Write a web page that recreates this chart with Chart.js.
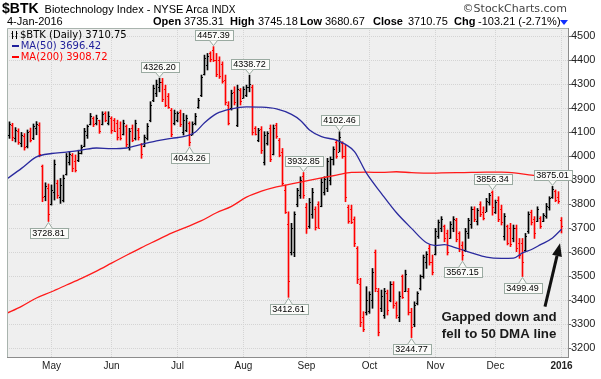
<!DOCTYPE html>
<html>
<head>
<meta charset="utf-8">
<script src="https://cdn.jsdelivr.net/npm/chart.js@4.4.1/dist/chart.umd.min.js"></script>
<style>
body{margin:0;background:#fff;}
#wrap{position:relative;width:601px;height:379px;overflow:hidden;font-family:"Liberation Sans",Arial,sans-serif;color:#000;}
#wrap canvas{position:absolute;left:0;top:0;}
.t{position:absolute;white-space:nowrap;}
.lg{position:absolute;white-space:nowrap;font-family:"DejaVu Sans",Verdana,sans-serif;font-size:10px;line-height:11px;}
</style>
</head>
<body>
<div id="wrap">
<canvas id="chart" width="601" height="379"></canvas>

<div class="t" style="left:2px;top:1px;font-size:14px;line-height:14px;"><b>$BTK</b><span style="font-size:11px;margin-left:6px;">Biotechnology Index - NYSE Arca</span><span style="font-size:10px;margin-left:3px;">INDX</span></div>
<div class="t" style="right:34px;top:3px;font-family:'DejaVu Sans',sans-serif;font-size:11px;line-height:11px;color:#444;">©StockCharts.com</div>

<div class="t" style="left:7px;top:16px;font-size:11px;line-height:11px;">4-Jan-2016</div>
<div class="t" style="left:153px;top:16px;font-size:11px;line-height:11px;"><b>Open</b></div>
<div class="t" style="left:184px;top:16px;font-size:11px;line-height:11px;">3735.31</div>
<div class="t" style="left:230px;top:16px;font-size:11px;line-height:11px;"><b>High</b></div>
<div class="t" style="left:258px;top:16px;font-size:11px;line-height:11px;">3745.18</div>
<div class="t" style="left:300px;top:16px;font-size:11px;line-height:11px;"><b>Low</b></div>
<div class="t" style="left:325px;top:16px;font-size:11px;line-height:11px;">3680.67</div>
<div class="t" style="left:373px;top:16px;font-size:11px;line-height:11px;"><b>Close</b></div>
<div class="t" style="left:408px;top:16px;font-size:11px;line-height:11px;">3710.75</div>
<div class="t" style="left:454px;top:16px;font-size:11px;line-height:11px;"><b>Chg</b></div>
<div class="t" style="left:478px;top:16px;font-size:11px;line-height:11px;">-103.21 (-2.71%)</div>
<div style="position:absolute;left:560px;top:20px;width:0;height:0;border-left:4px solid transparent;border-right:4px solid transparent;border-top:5px solid #1030ff;"></div>

<svg style="position:absolute;left:11px;top:31px;" width="8" height="8">
  <path d="M1.5 0V8 M0.5 2.5H1.5 M1.5 5.5H2.5 M5.5 0V8 M4.5 5.5H5.5 M5.5 2.5H6.5" stroke="#000" stroke-width="1" fill="none"/>
</svg>
<div class="lg" style="left:20px;top:29px;">$BTK (Daily) 3710.75</div>
<div style="position:absolute;left:12px;top:44.5px;width:7px;height:2px;background:#1f1f9a;"></div>
<div class="lg" style="left:20.7px;top:40px;color:#1f1f9a;">MA(50) 3696.42</div>
<div style="position:absolute;left:12px;top:55.5px;width:7px;height:2px;background:#ff0000;"></div>
<div class="lg" style="left:20.7px;top:51px;color:#ff0000;">MA(200) 3908.72</div>
</div>

<script>
// trading-day index 0 = 1 May 2015; bars run from index -14 (13 Apr 2015) to 170 (4 Jan 2016)
const firstIdx=-14;

const opens=[
4090,4130,4075,4105,4055,4085,4045,4105,4075,4120,
4130,3960,3835,3870,3800,3850,3890,3830,3820,3925,
3975,4005,3980,3985,4015,4045,4090,4135,4160,4140,
4150,4135,4180,4140,4160,4150,4140,4120,4095,4125,
4040,4120,4075,4110,4050,4045,4075,4150,4235,4265,
4290,4310,4280,4250,4195,4140,4150,4185,4100,4110,
4140,4090,4140,4205,4255,4345,4380,4430,4445,4400,
4400,4385,4320,4215,4200,4270,4130,4275,4245,4255,
4290,4290,4120,4070,4115,3975,4055,4120,4010,4130,
4070,4020,3860,3720,3600,3600,3800,3840,3920,3790,
3710,3760,3780,3800,3795,3850,3870,3900,3990,4060,
4020,4055,4000,3790,3780,3740,3620,3470,3330,3350,
3355,3400,3600,3440,3370,3340,3430,3400,3470,3390,
3330,3500,3440,3440,3350,3300,3390,3450,3500,3560,
3620,3560,3595,3670,3700,3710,3680,3660,3700,3735,
3680,3630,3610,3680,3720,3780,3730,3800,3770,3770,
3810,3850,3770,3820,3780,3670,3710,3700,3660,3700,
3640,3640,3610,3690,3770,3740,3730,3745,3730,3750,
3790,3830,3855,3830,3735.31];

const highs=[
4144,4138,4120,4115,4100,4095,4110,4118,4135,4145,
4140,3964,3890,3885,3881,3985,3901,3908,3922,4012,
4019,4012,4006,4026,4047,4117,4131,4179,4165,4172,
4151,4186,4186,4186,4165,4158,4151,4144,4151,4131,
4117,4131,4151,4117,4054,4089,4137,4228,4297,4318,
4326.20,4325,4297,4262,4200,4193,4186,4193,4179,4172,
4144,4144,4179,4242,4339,4422,4429,4436,4457.39,4429,
4415,4394,4339,4228,4276,4290,4297,4283,4290,4297,
4338.72,4297,4124,4117,4124,4103,4103,4131,4131,4138,
4075,4033,3881,3769,3721,3769,3867,3915,3932.85,3804,
3825,3867,3790,3811,3908,3915,3992,3998,4040,4068,
4102.46,4061,4047,3797,3797,3748,3624,3492,3353,3457,
3436,3533,3610,3450,3443,3450,3443,3478,3478,3394,
3436,3506,3526,3450,3367,3394,3436,3506,3589,3603,
3631,3589,3700,3735,3749,3714,3693,3728,3749,3742,
3686,3644,3700,3742,3790,3790,3783,3811,3790,3825,
3846,3856.34,3818,3832,3797,3762,3714,3721,3714,3714,
3658,3658,3679,3769,3776,3749,3790,3749,3762,3804,
3832,3875.01,3860,3853,3745.18];

const lows=[
4075,4065,4060,4050,4040,4026,4035,4060,4070,4090,
3998,3811,3815,3728.81,3797,3818,3825,3804,3810,3922,
3964,3936,3935,3978,4010,4040,4075,4131,4124,4131,
4096,4131,4144,4131,4096,4103,4068,4068,4089,4040,
4026,4061,4068,4068,3992,4040,4068,4144,4228,4249,
4269,4228,4207,4200,4082,4131,4144,4124,4089,4103,
4043.26,4089,4131,4200,4249,4339,4360,4394,4395,4332,
4325,4305,4214,4131,4193,4214,4124,4214,4242,4249,
4269,4089,4089,4061,4012,3964,4047,3978,4006,4075,
3998,3881,3762,3412.61,3589,3582,3790,3825,3825,3679,
3700,3742,3693,3700,3790,3839,3853,3881,3964,3992,
4019,3992,3811,3721,3720,3624,3470,3290,3270,3339,
3346,3367,3436,3252,3353,3325,3339,3394,3367,3325,
3311,3408,3436,3339,3244.77,3290,3381,3443,3492,3533,
3547,3506,3589,3658,3686,3644,3589,3658,3686,3644,
3603,3567.15,3603,3658,3700,3728,3714,3749,3735,3769,
3797,3755,3762,3728,3714,3651,3631,3624,3644,3603,
3575,3499.49,3603,3679,3714,3658,3728,3700,3728,3742,
3776,3825,3811,3804,3680.67];

const closes=[
4135,4080,4110,4060,4090,4040,4100,4070,4125,4135,
4010,3830,3875,3760,3860,3970,3840,3880,3910,4000,
4010,3950,3945,4015,4040,4105,4125,4170,4135,4160,
4105,4175,4150,4170,4110,4105,4080,4075,4140,4050,
4105,4070,4140,4080,4010,4080,4125,4215,4285,4300,
4310,4240,4215,4205,4095,4180,4182,4135,4150,4160,
4060,4135,4170,4235,4330,4410,4420,4405,4400,4345,
4335,4315,4225,4140,4265,4225,4280,4230,4280,4290,
4300,4100,4095,4110,4025,4090,4098,3990,4120,4085,
4005,3890,3770,3480,3700,3760,3860,3900,3840,3700,
3810,3850,3705,3702,3895,3905,3980,3990,4030,4000,
4080,4000,3830,3730,3725,3640,3490,3310,3280,3400,
3425,3520,3450,3270,3420,3440,3360,3470,3380,3340,
3420,3415,3510,3350,3290,3380,3430,3500,3580,3595,
3560,3520,3690,3725,3740,3660,3600,3720,3740,3655,
3615,3590,3690,3735,3780,3740,3775,3760,3745,3815,
3840,3790,3810,3740,3725,3750,3640,3635,3700,3620,
3590,3560,3670,3760,3725,3680,3780,3710,3755,3795,
3825,3865,3820,3813.96,3710.75];

// moving averages at sample days
const ma50Idx=[-15,-10,-5,0,5,10,15,20,25,30,35,40,45,48,51,55,60,65,70,75,80,83,86,90,95,98,101,105,110,115,120,125,128,131,134,137,140,145,150,154,157,160,163,167,170];
const ma50Vals=[3905,3950,3998,4012,4018,4026,4035,4032,4035,4050,4065,4075,4085,4102,4140,4178,4198,4206,4205,4198,4175,4150,4110,4082,4068,4050,4020,3930,3845,3765,3700,3640,3628,3632,3622,3610,3598,3580,3575,3576,3598,3612,3632,3660,3696.42];
const ma200Idx=[-15,-10,-5,0,5,10,15,20,25,30,35,40,45,50,55,60,65,70,75,80,85,90,95,100,105,110,115,120,125,130,135,140,145,150,155,160,165,170];
const ma200Vals=[3345,3375,3410,3436,3464,3492,3522,3555,3588,3620,3650,3680,3705,3732,3765,3792,3830,3855,3873,3885,3898,3910,3922,3933,3934,3933,3936,3932,3930,3931,3932,3933,3934,3934,3930,3922,3915,3908.72];

// x axis: first trading day of each month
const monthStarts=[0,20,42,64,85,106,128,148,170];
const monthLabels=['May','Jun','Jul','Aug','Sep','Oct','Nov','Dec','2016'];
const yTicks=[3200,3300,3400,3500,3600,3700,3800,3900,4000,4100,4200,4300,4400,4500];

// price callouts
const calloutIdx=[-1,36,46,54,66,79,84,96,120,137,147,157,167];
const calloutVals=[3728.81,4326.20,4043.26,4457.39,4338.72,3412.61,3932.85,4102.46,3244.77,3567.15,3856.34,3499.49,3875.01];
const calloutSide=['below','above','below','above','above','below','above','above','below','below','above','below','above'];

const noteLines=['Gapped down and','fell to 50 DMA line'];

const barColors=closes.map((c,i)=>{
    const prev=i==0 ? opens[0] : closes[i-1];
    return c>=prev ? '#000000' : '#ff0000';
});

const rangeData=highs.map((h,i)=>({x:firstIdx+i,y:[lows[i],h]}));
const ma50Data=ma50Idx.map((k,i)=>({x:k,y:ma50Vals[i]}));
const ma200Data=ma200Idx.map((k,i)=>({x:k,y:ma200Vals[i]}));

const plotBg={
    id:'plotBg',
    beforeDraw(chart){
        const {ctx,chartArea:a}=chart;
        ctx.save();
        ctx.fillStyle='#ffffff';
        ctx.fillRect(0,0,chart.width,chart.height);
        ctx.fillStyle='#efefef';
        ctx.fillRect(a.left,a.top,a.right-a.left,a.bottom-a.top);
        ctx.restore();
    },
    afterDraw(chart){
        const {ctx,chartArea:a}=chart;
        ctx.save();
        ctx.strokeStyle='#a9b4ae';
        ctx.lineWidth=1;
        ctx.beginPath();
        ctx.moveTo(a.left+0.5,a.bottom);
        ctx.lineTo(a.left+0.5,a.top+0.5);
        ctx.lineTo(a.right,a.top+0.5);
        ctx.stroke();
        ctx.restore();
    }
};

const ohlcTicks={
    id:'ohlcTicks',
    afterDatasetsDraw(chart){
        const {ctx,scales:{x,y}}=chart;
        ctx.save();
        ctx.lineWidth=1;
        for(let i=0;i<closes.length;i++){
            const px=x.getPixelForValue(firstIdx+i);
            const yo=Math.round(y.getPixelForValue(opens[i]))+0.5;
            const yc=Math.round(y.getPixelForValue(closes[i]))+0.5;
            ctx.strokeStyle=barColors[i];
            ctx.beginPath();
            ctx.moveTo(px-1.5,yo);ctx.lineTo(px-0.5,yo);
            ctx.moveTo(px+0.5,yc);ctx.lineTo(px+1.5,yc);
            ctx.stroke();
        }
        ctx.restore();
    }
};

const callouts={
    id:'callouts',
    afterDatasetsDraw(chart){
        const {ctx,scales:{x,y}}=chart;
        ctx.save();
        ctx.font='9px "Liberation Sans", Arial, sans-serif';
        ctx.textAlign='center';
        ctx.textBaseline='middle';
        calloutIdx.forEach((k,i)=>{
            const txt=calloutVals[i].toFixed(2);
            const px=Math.round(x.getPixelForValue(k))+0.5;
            const tip=y.getPixelForValue(calloutVals[i]);
            const w=Math.round(ctx.measureText(txt).width)+5;
            const h=10;
            let top,base,tipY;
            if(calloutSide[i]=='above'){
                tipY=tip-1;
                base=Math.round(tip-6.5)+0.5;
                top=base-h;
            }else{
                tipY=tip+1;
                base=Math.round(tip+6.5)+0.5;
                top=base;
            }
            const left=Math.round(px-w/2)+0.5;
            ctx.fillStyle='#fbfbf9';
            ctx.strokeStyle='#9aaaa1';
            ctx.lineWidth=1;
            ctx.fillRect(left,top,w,h);
            ctx.strokeRect(left,top,w,h);
            ctx.beginPath();
            ctx.moveTo(px-4,base);
            ctx.lineTo(px,tipY);
            ctx.lineTo(px+4,base);
            ctx.closePath();
            ctx.fill();
            ctx.beginPath();
            ctx.moveTo(px-4,base);
            ctx.lineTo(px,tipY);
            ctx.lineTo(px+4,base);
            ctx.stroke();
            ctx.fillStyle='#000';
            ctx.fillText(txt,px,top+h/2+0.5);
        });

        // note text and arrow pointing at the last bar
        ctx.font='bold 13.3px "Liberation Sans", Arial, sans-serif';
        ctx.textBaseline='alphabetic';
        ctx.fillStyle='#1a1a1a';
        const nx=x.getPixelForValue(149.2);
        ctx.fillText(noteLines[0],nx,y.getPixelForValue(3312));
        ctx.fillText(noteLines[1],nx,y.getPixelForValue(3245));

        const x0=x.getPixelForValue(164.5),y0=y.getPixelForValue(3374);
        const x1=x.getPixelForValue(169.5),y1=y.getPixelForValue(3638);
        const ang=Math.atan2(y1-y0,x1-x0);
        const hl=13,hw=5;
        const bx=x1-hl*Math.cos(ang),by=y1-hl*Math.sin(ang);
        ctx.strokeStyle='#111';
        ctx.lineWidth=3;
        ctx.beginPath();
        ctx.moveTo(x0,y0);ctx.lineTo(bx,by);
        ctx.stroke();
        ctx.fillStyle='#111';
        ctx.beginPath();
        ctx.moveTo(x1,y1);
        ctx.lineTo(bx+hw*Math.sin(ang),by-hw*Math.cos(ang));
        ctx.lineTo(bx-hw*Math.sin(ang),by+hw*Math.cos(ang));
        ctx.closePath();
        ctx.fill();
        ctx.restore();
    }
};

new Chart(document.getElementById('chart'),{
    type:'bar',
    data:{
        datasets:[
            {
                type:'line',
                data:ma50Data,
                borderColor:'#2a2a9e',
                borderWidth:1.3,
                pointRadius:0,
                cubicInterpolationMode:'monotone',
                order:1
            },
            {
                type:'line',
                data:ma200Data,
                borderColor:'#ff1a1a',
                borderWidth:1.3,
                pointRadius:0,
                cubicInterpolationMode:'monotone',
                order:2
            },
            {
                type:'bar',
                data:rangeData,
                backgroundColor:barColors,
                borderWidth:0,
                barThickness:1,
                grouped:false,
                order:3
            }
        ]
    },
    options:{
        responsive:false,
        animation:false,
        devicePixelRatio:1,
        layout:{padding:{left:7,top:28,right:0,bottom:0}},
        plugins:{legend:{display:false},tooltip:{enabled:false}},
        scales:{
            x:{
                type:'linear',
                min:-14.8333,
                max:172.1667,
                offset:false,
                afterBuildTicks:(s)=>{s.ticks=monthStarts.map(v=>({value:v}));},
                afterFit:(s)=>{s.height=22;},
                grid:{color:'#d4d4d4',offset:false,drawTicks:false},
                border:{display:true,color:'#8c8c8c',dash:[1,1]},
                ticks:{
                    padding:3,
                    color:'#222',
                    autoSkip:false,
                    maxRotation:0,
                    font:(c)=>({family:'"Liberation Sans", Arial, sans-serif',size:10,weight:(c.tick&&c.tick.value==170)?'bold':'normal'}),
                    callback:(v)=>monthLabels[monthStarts.indexOf(v)]
                }
            },
            y:{
                type:'linear',
                position:'right',
                min:3164,
                max:4535,
                afterBuildTicks:(s)=>{s.ticks=yTicks.map(v=>({value:v}));},
                afterFit:(s)=>{s.width=33;},
                grid:{color:'#d4d4d4',tickLength:3,tickColor:'#666'},
                border:{display:true,color:'#8c8c8c',dash:[1,1]},
                ticks:{
                    padding:0,
                    color:'#222',
                    font:{family:'"Liberation Sans", Arial, sans-serif',size:11},
                    callback:(v)=>String(v)
                }
            }
        }
    },
    plugins:[plotBg,ohlcTicks,callouts]
});
</script>
</body>
</html>
